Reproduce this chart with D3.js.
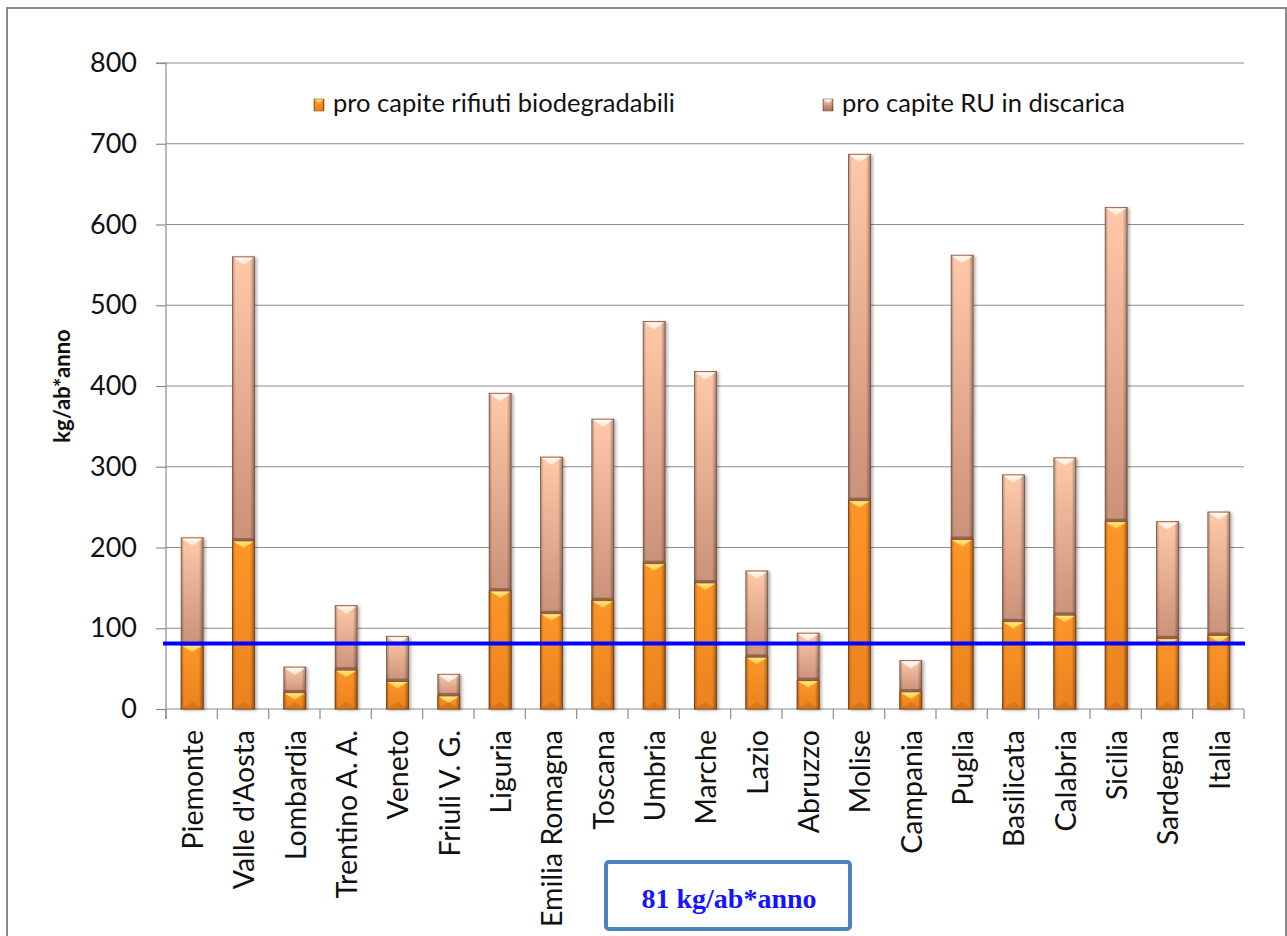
<!DOCTYPE html>
<html><head><meta charset="utf-8">
<script src="https://cdn.jsdelivr.net/npm/d3@7"></script>
<style>html,body{margin:0;padding:0;background:#fff;}svg{display:block;}</style>
</head><body>
<script>
const categories = ["Piemonte","Valle d'Aosta","Lombardia","Trentino A. A.","Veneto","Friuli V. G.","Liguria","Emilia Romagna","Toscana","Umbria","Marche","Lazio","Abruzzo","Molise","Campania","Puglia","Basilicata","Calabria","Sicilia","Sardegna","Italia"];
const biodegradabili = [79,208,20,48,34,16,146,118,134,180,156,64,35,258,21,210,108,116,232,87,91];
const discarica = [212,560,52,128,90,43,391,312,359,480,418,171,94,687,60,562,290,311,621,232,244];
const seriesNames = ["pro capite rifiuti biodegradabili","pro capite RU in discarica"];
const yTicks = [0,100,200,300,400,500,600,700,800];
const targetValue = 81;
const targetLabel = "81 kg/ab*anno";
const yTitle = "kg/ab*anno";

const W = 1287, H = 936;
const svg = d3.select("body").append("svg").attr("width", W).attr("height", H);
const defs = svg.append("defs");

const gRU = defs.append("linearGradient").attr("id","gRU").attr("x1",0).attr("y1",0).attr("x2",0).attr("y2",1);
gRU.append("stop").attr("offset","0%").attr("stop-color","#ffc9a9");
gRU.append("stop").attr("offset","45%").attr("stop-color","#d9a086");
gRU.append("stop").attr("offset","100%").attr("stop-color","#a8735d");
const gOr = defs.append("linearGradient").attr("id","gOr").attr("x1",0).attr("y1",0).attr("x2",0).attr("y2",1);
gOr.append("stop").attr("offset","0%").attr("stop-color","#fd9628");
gOr.append("stop").attr("offset","100%").attr("stop-color","#ea821e");
const gEdge = defs.append("linearGradient").attr("id","gEdge").attr("x1",0).attr("y1",0).attr("x2",1).attr("y2",0);
gEdge.append("stop").attr("offset","0%").attr("stop-color","#000").attr("stop-opacity",0.28);
gEdge.append("stop").attr("offset","14%").attr("stop-color","#000").attr("stop-opacity",0.0);
gEdge.append("stop").attr("offset","80%").attr("stop-color","#000").attr("stop-opacity",0.0);
gEdge.append("stop").attr("offset","100%").attr("stop-color","#000").attr("stop-opacity",0.35);
const gCapRU = defs.append("linearGradient").attr("id","gCapRU").attr("x1",0).attr("y1",0).attr("x2",0).attr("y2",1);
gCapRU.append("stop").attr("offset","0%").attr("stop-color","#fffaf2");
gCapRU.append("stop").attr("offset","100%").attr("stop-color","#ffe2cc");
const gCapOr = defs.append("linearGradient").attr("id","gCapOr").attr("x1",0).attr("y1",0).attr("x2",0).attr("y2",1);
gCapOr.append("stop").attr("offset","0%").attr("stop-color","#ffe98a");
gCapOr.append("stop").attr("offset","100%").attr("stop-color","#ffc23a");
const f = defs.append("filter").attr("id","shadow").attr("x","-30%").attr("y","-10%").attr("width","160%").attr("height","120%");
f.append("feDropShadow").attr("dx",2).attr("dy",1).attr("stdDeviation",1.6).attr("flood-color","#000").attr("flood-opacity",0.3);

svg.append("rect").attr("x",7).attr("y",8).attr("width",1279).attr("height",940)
  .attr("fill","none").attr("stroke","#8a8a8a").attr("stroke-width",2);

const pL = 166, pR = 1244, pT = 63, pB = 709;
const y = d3.scaleLinear().domain([0,800]).range([pB, pT]);
const x = d3.scaleBand().domain(categories).range([pL, pR]).padding(0);
const bw = 22;

svg.append("g").selectAll("line").data(yTicks.filter(d=>d>0)).join("line")
  .attr("x1",pL).attr("x2",pR).attr("y1",d=>y(d)).attr("y2",d=>y(d))
  .attr("stroke","#8c8c8c").attr("stroke-width",1.2);

const yAxis = svg.append("g").attr("transform",`translate(${pL},0)`)
  .call(d3.axisLeft(y).tickValues(yTicks).tickSize(10).tickPadding(19));
yAxis.select(".domain").attr("stroke","#8c8c8c").attr("stroke-width",1.2).attr("d",`M-10,${pT}H0V${pB+10}`);
yAxis.selectAll(".tick line").attr("stroke","#8c8c8c").attr("stroke-width",1.2);
yAxis.selectAll("text").attr("font-family","Lato, 'Open Sans', sans-serif").attr("font-size",27).attr("fill","#111");

const xAxis = svg.append("g").attr("transform",`translate(0,${pB})`);
xAxis.append("line").attr("x1",pL).attr("x2",pR).attr("y1",0).attr("y2",0).attr("stroke","#8c8c8c").attr("stroke-width",1.2);
const bounds = categories.map((c)=>x(c)).concat([pR]);
xAxis.selectAll("line.tk").data(bounds).join("line").attr("class","tk")
  .attr("x1",d=>d).attr("x2",d=>d).attr("y1",0).attr("y2",10).attr("stroke","#8c8c8c").attr("stroke-width",1.2);
xAxis.selectAll("text").data(categories).join("text")
  .attr("transform",d=>`translate(${x(d)+x.bandwidth()/2+1},21) rotate(-90)`)
  .attr("text-anchor","end").attr("dy","0.36em")
  .attr("font-family","Lato, 'Open Sans', sans-serif").attr("font-size",28.5).attr("fill","#111")
  .text(d=>d);

svg.append("text").attr("transform",`translate(62,386) rotate(-90)`).attr("text-anchor","middle").attr("dy","0.35em")
  .attr("font-family","Lato, 'Open Sans', sans-serif").attr("font-weight","bold").attr("font-size",22).attr("fill","#111")
  .text(yTitle);

const data = categories.map((c,i)=>({c, b: biodegradabili[i], r: discarica[i]}));
const bars = svg.append("g");
const grp = bars.selectAll("g").data(data).join("g")
  .attr("transform",d=>`translate(${x(d.c)+x.bandwidth()/2 - bw/2 + 0.5},0)`);

grp.append("rect").attr("x",0).attr("y",d=>y(d.r)).attr("width",bw).attr("height",d=>y(0)-y(d.r))
  .attr("fill","url(#gRU)").attr("stroke","#8a5c48").attr("stroke-width",0.8).attr("filter","url(#shadow)");
grp.append("rect").attr("x",0).attr("y",d=>y(d.r)).attr("width",bw).attr("height",d=>y(0)-y(d.r))
  .attr("fill","url(#gEdge)");
grp.append("path").attr("d",d=>{const t=y(d.r); return `M1,${t+1}L${bw-1},${t+1}L${bw/2},${t+8}Z`;})
  .attr("fill","url(#gCapRU)");
grp.append("rect").attr("x",0).attr("y",d=>y(d.b)-3).attr("width",bw).attr("height",3)
  .attr("fill","#7d5140").attr("opacity",0.7);

grp.append("rect").attr("x",0).attr("y",d=>y(d.b)).attr("width",bw).attr("height",d=>y(0)-y(d.b))
  .attr("fill","url(#gOr)").attr("stroke","#8d4d14").attr("stroke-width",0.8);
grp.append("rect").attr("x",0).attr("y",d=>y(d.b)).attr("width",bw).attr("height",d=>y(0)-y(d.b))
  .attr("fill","url(#gEdge)");
grp.append("path").attr("d",d=>{const t=y(d.b); return `M1,${t+0.5}L${bw-1},${t+0.5}L${bw/2},${t+7}Z`;})
  .attr("fill","url(#gCapOr)");
grp.append("path").attr("d",d=>{const b=y(0); return `M1,${b-0.5}L${bw-1},${b-0.5}L${bw/2},${b-7}Z`;})
  .attr("fill","#b35f14").attr("opacity",0.35);

svg.append("line").attr("x1",pL-3).attr("x2",pR+1).attr("y1",y(targetValue)).attr("y2",y(targetValue))
  .attr("stroke","#0000ff").attr("stroke-width",4);

const legendItems = [{name:seriesNames[0], x:314, col:"url(#gOr)", cap:"url(#gCapOr)", st:"#8d4d14"},
                     {name:seriesNames[1], x:823, col:"url(#gRU)", cap:"url(#gCapRU)", st:"#8a5c48"}];
const lg = svg.append("g").selectAll("g").data(legendItems).join("g").attr("transform",d=>`translate(${d.x},99)`);
lg.append("rect").attr("width",10).attr("height",12).attr("fill",d=>d.col).attr("stroke",d=>d.st).attr("stroke-width",0.6);
lg.append("rect").attr("width",10).attr("height",12).attr("fill","url(#gEdge)");
lg.append("path").attr("d","M0.5,0.5L9.5,0.5L5,4Z").attr("fill",d=>d.cap);
lg.append("text").attr("x",19).attr("y",13).attr("font-family","Lato, 'Open Sans', sans-serif").attr("font-size",25.5).attr("fill","#111")
  .text(d=>d.name);

svg.append("rect").attr("x",606).attr("y",862).attr("width",244).attr("height",67).attr("rx",3)
  .attr("fill","#fff").attr("stroke","#4f81bd").attr("stroke-width",4);
svg.append("text").attr("x",729).attr("y",908).attr("text-anchor","middle")
  .attr("font-family","'Liberation Serif', 'Times New Roman', serif").attr("font-weight","bold").attr("font-size",28).attr("fill","#1414ff")
  .text(targetLabel);
</script>
</body></html>
